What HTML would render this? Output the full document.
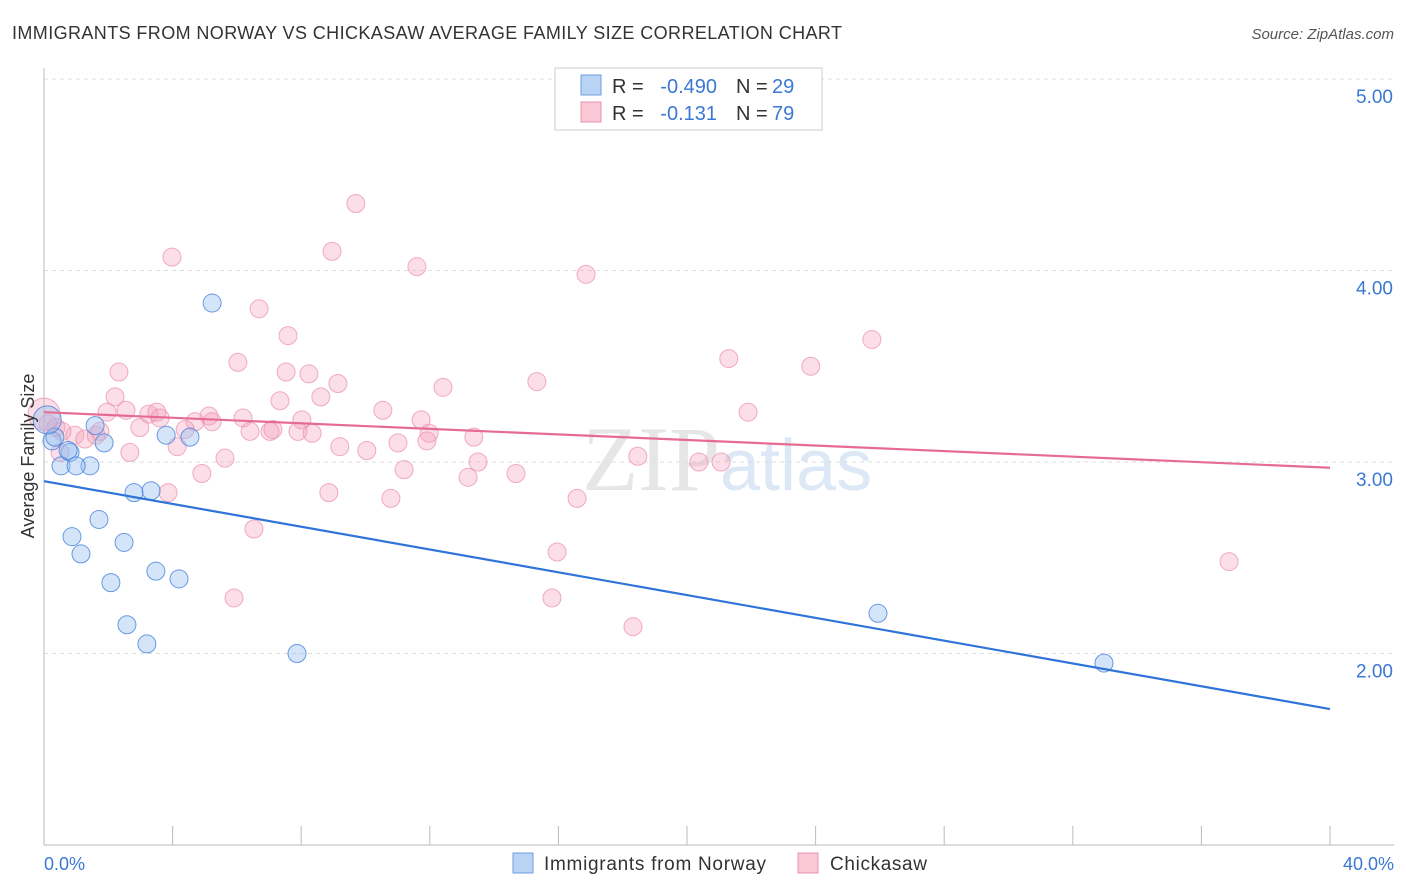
<!DOCTYPE html>
<html><head><meta charset="utf-8"><style>
body{margin:0;background:#fff;font-family:"Liberation Sans",sans-serif;}
svg{display:block}
</style></head><body>
<svg id="c" width="1406" height="892">
<text x="12" y="39" font-size="18" fill="#333" textLength="830">IMMIGRANTS FROM NORWAY VS CHICKASAW AVERAGE FAMILY SIZE CORRELATION CHART</text>
<text x="1394" y="39" font-size="15" fill="#555" font-style="italic" text-anchor="end">Source: ZipAtlas.com</text>
<text x="720" y="490" font-size="92" fill="#e6e6e6" text-anchor="end" font-family="Liberation Serif">ZIP</text>
<text x="720" y="490" font-size="72" fill="#dce8f6">atlas</text>
<g id="grid"></g><g id="pts"></g><g id="lines"></g>
<text transform="translate(34,456) rotate(-90)" font-size="18" fill="#333" text-anchor="middle">Average Family Size</text>
<text x="44" y="870" font-size="18" fill="#3a78d4">0.0%</text>
<text x="1394" y="870" font-size="18" fill="#3a78d4" text-anchor="end">40.0%</text>
<g>
<rect x="555" y="68" width="267" height="62" fill="#fff" stroke="#ccc"/>
<rect x="581" y="75" width="20" height="20" fill="#b9d3f5" stroke="#6d9fe0"/>
<rect x="581" y="102" width="20" height="20" fill="#f9c7d5" stroke="#eb93ad"/>
<text x="612" y="93" font-size="20" fill="#333">R =</text>
<text x="717" y="93" font-size="20" fill="#3a78d4" text-anchor="end">-0.490</text>
<text x="736" y="93" font-size="20" fill="#333">N =</text>
<text x="772" y="93" font-size="20" fill="#3a78d4">29</text>
<text x="612" y="120" font-size="20" fill="#333">R =</text>
<text x="717" y="120" font-size="20" fill="#3a78d4" text-anchor="end">-0.131</text>
<text x="736" y="120" font-size="20" fill="#333">N =</text>
<text x="772" y="120" font-size="20" fill="#3a78d4">79</text>
</g>
<g>
<rect x="513" y="853" width="20" height="20" fill="#b9d3f5" stroke="#6d9fe0"/>
<text x="544" y="870" font-size="19" fill="#333" textLength="222">Immigrants from Norway</text>
<rect x="798" y="853" width="20" height="20" fill="#f9c7d5" stroke="#eb93ad"/>
<text x="830" y="870" font-size="19" fill="#333" textLength="97">Chickasaw</text>
</g>
</svg>
<script>
const yTicks=[2,3,4,5];
const xTicks=[0,4,8,12,16,20,24,28,32,36,40];
const norwayX=[0.25,0.34,0.81,0.53,1.43,1.87,1.59,0.75,1.0,3.8,4.54,5.23,2.8,3.33,0.87,1.71,1.15,2.49,2.08,3.48,4.2,2.58,3.2,7.87,25.94,32.97,0.1];
const norwayY=[3.11,3.13,3.05,2.98,2.98,3.10,3.19,3.06,2.98,3.14,3.13,3.83,2.84,2.85,2.61,2.70,2.52,2.58,2.37,2.43,2.39,2.15,2.05,2.00,2.21,1.95,3.22];
const chickX=[3.98,9.7,8.96,11.6,16.86,6.69,7.59,6.03,2.33,7.53,8.24,9.14,12.41,15.33,21.3,23.85,25.75,2.21,7.34,8.61,1.96,2.55,3.26,3.51,3.61,5.13,4.7,5.23,6.19,8.02,10.54,11.73,2.98,4.39,6.41,7.03,7.12,7.9,8.34,11.98,13.37,11.91,11.01,9.2,10.04,2.67,4.14,5.63,11.2,13.5,14.68,13.19,4.91,3.86,8.86,10.79,16.58,18.47,20.37,21.06,21.9,6.53,15.96,5.91,15.8,18.32,36.86,0.37,0.56,0.96,1.27,1.62,1.74,0.5,0.12,0];
const chickY=[4.07,4.35,4.10,4.02,3.98,3.80,3.66,3.52,3.47,3.47,3.46,3.41,3.39,3.42,3.54,3.50,3.64,3.34,3.32,3.34,3.26,3.27,3.25,3.26,3.23,3.24,3.21,3.21,3.23,3.22,3.27,3.22,3.18,3.17,3.16,3.16,3.17,3.16,3.15,3.15,3.13,3.11,3.10,3.08,3.06,3.05,3.08,3.02,2.96,3.00,2.94,2.92,2.94,2.84,2.84,2.81,2.81,3.03,3.0,3.0,3.26,2.65,2.53,2.29,2.29,2.14,2.48,3.18,3.16,3.14,3.12,3.14,3.16,3.05,3.20,3.25];
const norwayLine=[2.9,1.71];
const chickLine=[3.26,2.97];
const NS="http://www.w3.org/2000/svg";
const X=v=>44+v/40*1286, Y=v=>462-(v-3)*191.5;
function mk(p,t,a){const e=document.createElementNS(NS,t);for(const k in a)e.setAttribute(k,a[k]);p.appendChild(e);return e;}
const g=document.getElementById('grid');
yTicks.forEach(v=>{const l=mk(g,'line',{x1:44,x2:1394,y1:Y(v),y2:Y(v),stroke:'#ddd','stroke-dasharray':'4,4'});


const t=mk(g,'text',{x:1393,y:Y(v)+24,'font-size':19,fill:'#3a78d4','text-anchor':'end'});t.textContent=v.toFixed(2);

});
const ax=mk(g,'line',{x1:44,x2:1394,y1:845,y2:845,stroke:'#bbb'});


const ay=mk(g,'line',{x1:44,x2:44,y1:68,y2:845,stroke:'#bbb'});


xTicks.forEach(v=>{const l=mk(g,'line',{x1:X(v),x2:X(v),y1:826,y2:845,stroke:'#bbb'});

});
const p=document.getElementById('pts');
chickX.forEach((x,i)=>{const c=mk(p,'circle',{cx:X(x),cy:Y(chickY[i]),r:i==chickX.length-1?16:9,fill:'rgba(244,160,185,0.35)',stroke:'rgba(235,140,170,0.7)'});

});
norwayX.forEach((x,i)=>{const c=mk(p,'circle',{cx:X(x),cy:Y(norwayY[i]),r:i==norwayX.length-1?14:9,fill:'rgba(150,190,240,0.4)',stroke:'rgba(70,130,220,0.8)'});

});
const L=document.getElementById('lines');
const a=mk(L,'line',{x1:X(0),x2:X(40),y1:Y(norwayLine[0]),y2:Y(norwayLine[1]),stroke:'#2f74d8','stroke-width':2.2});


const b=mk(L,'line',{x1:X(0),x2:X(40),y1:Y(chickLine[0]),y2:Y(chickLine[1]),stroke:'#e66b93','stroke-width':2.2});


</script>
</body></html>
